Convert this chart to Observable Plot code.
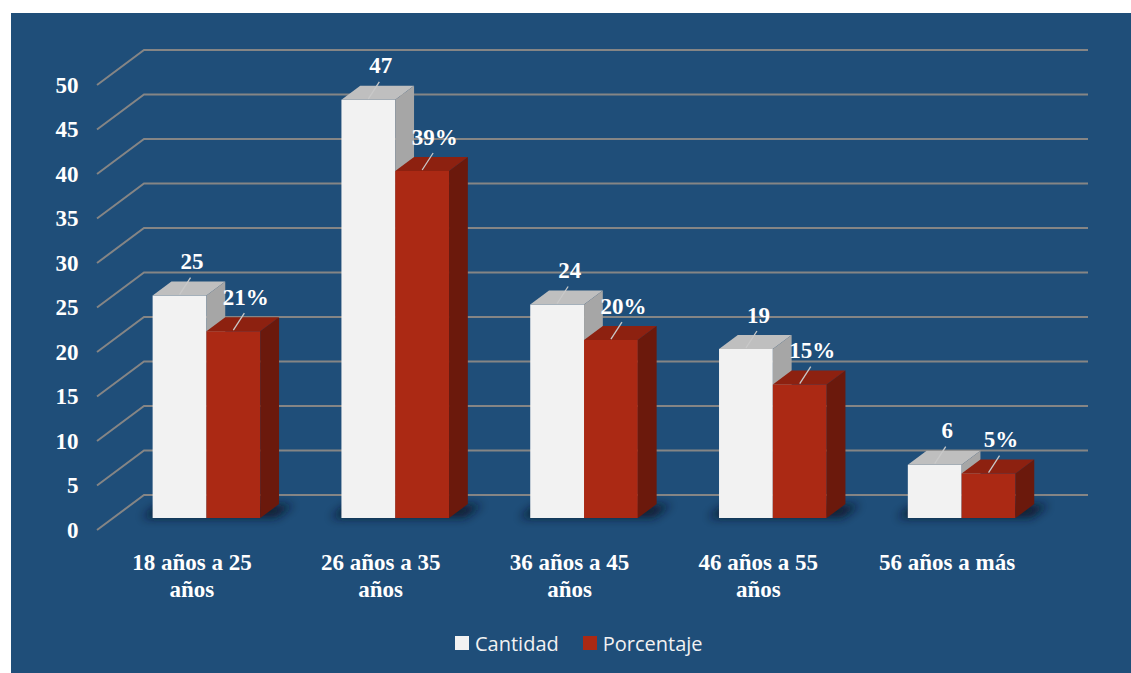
<!DOCTYPE html>
<html><head><meta charset="utf-8">
<script src="https://cdn.jsdelivr.net/npm/d3@7"></script>
<script src="https://cdn.jsdelivr.net/npm/@observablehq/plot@0.6"></script>
<style>
html,body{margin:0;padding:0;background:#fff;}
#wrap{position:absolute;left:11px;top:13px;width:1120px;height:660px;background:#1f4e79;overflow:hidden;}
#chart svg{display:block;}
#legend{position:absolute;left:444px;top:610px;height:40px;display:flex;align-items:center;font-family:"Open Sans","Noto Sans",sans-serif;font-size:20px;color:#f2f2f2;}
.item{display:flex;align-items:center;margin-right:24px;}
.sw{width:14px;height:14px;display:inline-block;margin-right:6px;}
</style></head>
<body><div id="wrap"><div id="chart"></div><div id="legend"></div></div>
<script>
// ---- data ----
const categories = ["18 años a 25 años", "26 años a 35 años", "36 años a 45 años", "46 años a 55 años", "56 años a más"];
const categoryLabels = ["18 años a 25\naños", "26 años a 35\naños", "36 años a 45\naños", "46 años a 55\naños", "56 años a más"];
const series = ["Cantidad", "Porcentaje"];
const cantidad = [25, 47, 24, 19, 6];
const porcentaje = [21, 39, 20, 15, 5];
const cantidadLabels = ["25", "47", "24", "19", "6"];
const porcentajeLabels = ["21%", "39%", "20%", "15%", "5%"];
const yTicks = [0, 5, 10, 15, 20, 25, 30, 35, 40, 45, 50];

// ---- styling ----
const DEPTH = [47, -35];         // oblique depth of the floor box (px)
const T0 = 0.34, T1 = 0.74;      // bar depth within the box
const SLOT = {Cantidad: [0.21, 0.495], Porcentaje: [0.495, 0.78]};
const COLORS = {
  Cantidad: {front: "#f2f2f2", top: "#bfbfbf", side: "#a6a6a6"},
  Porcentaje: {front: "#ab2914", top: "#8d2110", side: "#6b190c"}
};

const rows = [];
categories.forEach((c, i) => {
  rows.push({i, cat: c, series: "Cantidad", value: cantidad[i], label: cantidadLabels[i]});
  rows.push({i, cat: c, series: "Porcentaje", value: porcentaje[i], label: porcentajeLabels[i]});
});

function scene(a, b) {
  const scales = (b && typeof b.x === "function") ? b : a;
  const x = scales.x, y = scales.y;
  const [DX, DY] = DEPTH;
  const g = d3.create("svg:g");
  g.append("defs").append("filter").attr("id", "shBlur")
    .attr("x", "-50%").attr("y", "-200%").attr("width", "200%").attr("height", "500%")
    .append("feGaussianBlur").attr("stdDeviation", 5);
  const poly = pts => "M" + pts.map(p => p.join(",")).join("L") + "Z";
  // grid (side wall diagonals + back wall lines)
  const x0 = x(0), xN = x(categories.length);
  for (const v of yTicks) {
    const yy = y(v);
    g.append("path")
      .attr("d", `M${x0},${yy}L${x0 + DX},${yy + DY}L${xN + DX},${yy + DY}`)
      .attr("fill", "none").attr("stroke", "#858585").attr("stroke-width", 2);
  }
  // floor shadows
  categories.forEach((c, i) => {
    const xa = x(i + 0.15), xb = x(i + 0.86), yb = y(0);
    const s0 = 0.36, s1 = 0.72;
    g.append("path")
      .attr("d", poly([[xa + DX * s0, yb + DY * s0], [xb + DX * s0, yb + DY * s0], [xb + DX * s1, yb + DY * s1], [xa + DX * s1, yb + DY * s1]]))
      .attr("fill", "#081628").attr("opacity", 0.9).attr("filter", "url(#shBlur)");
  });
  // bars
  const ddx = DX * (T1 - T0), ddy = DY * (T1 - T0);
  for (const r of rows) {
    const [u0, u1] = SLOT[r.series];
    const col = COLORS[r.series];
    const xl = x(r.i + u0) + DX * T0, xr = x(r.i + u1) + DX * T0;
    const yt = y(r.value) + DY * T0, yb = y(0) + DY * T0;
    g.append("path").attr("d", poly([[xl, yt], [xr, yt], [xr, yb], [xl, yb]])).attr("fill", col.front);
    g.append("path").attr("d", poly([[xl, yt], [xr, yt], [xr + ddx, yt + ddy], [xl + ddx, yt + ddy]])).attr("fill", col.top);
    g.append("path").attr("d", poly([[xr, yt], [xr + ddx, yt + ddy], [xr + ddx, yb + ddy], [xr, yb]])).attr("fill", col.side);
    // leader line
    const cx = (xl + xr) / 2;
    g.append("path").attr("d", `M${cx},${yt - 1}L${cx + 11},${yt - 18}`)
      .attr("stroke", "#c9c9c9").attr("stroke-width", 1.3).attr("fill", "none");
  }
  return g.node();
}

const plot = Plot.plot({
  width: 1120, height: 610,
  marginLeft: 86, marginRight: 90, marginTop: 72, marginBottom: 93,
  x: {domain: [0, categories.length], axis: null},
  y: {domain: [0, 50], axis: null},
  style: {background: "transparent", color: "#ffffff", fontFamily: "'Liberation Serif', 'Times New Roman', serif", fontSize: "23px", fontWeight: "bold", overflow: "visible"},
  marks: [
    scene,
    Plot.axisY(yTicks, {tickSize: 0, tickPadding: 19, label: null, fontSize: 23, fontWeight: "bold", fill: "#ffffff"}),
    Plot.text(categoryLabels, {x: (d, i) => i + 0.5, y: () => 0, text: d => d, dy: 20, lineAnchor: "top", lineHeight: 1.17, textAnchor: "middle", fontSize: 23, fontWeight: "bold", fill: "#ffffff"}),
    Plot.text(rows, {x: r => r.i + (SLOT[r.series][0] + SLOT[r.series][1]) / 2, y: "value", text: "label", dx: DEPTH[0] * T0 + 12, dy: DEPTH[1] * T0 - 27, lineAnchor: "bottom", textAnchor: "middle", fontSize: 23, fontWeight: "bold", fill: "#ffffff"})
  ]
});
document.getElementById("chart").appendChild(plot);

// legend
const legend = document.getElementById("legend");
series.forEach(s => {
  const it = document.createElement("div");
  it.className = "item";
  const sw = document.createElement("span");
  sw.className = "sw";
  sw.style.background = COLORS[s].front;
  it.appendChild(sw);
  it.appendChild(document.createTextNode(s));
  legend.appendChild(it);
});
</script></body></html>
